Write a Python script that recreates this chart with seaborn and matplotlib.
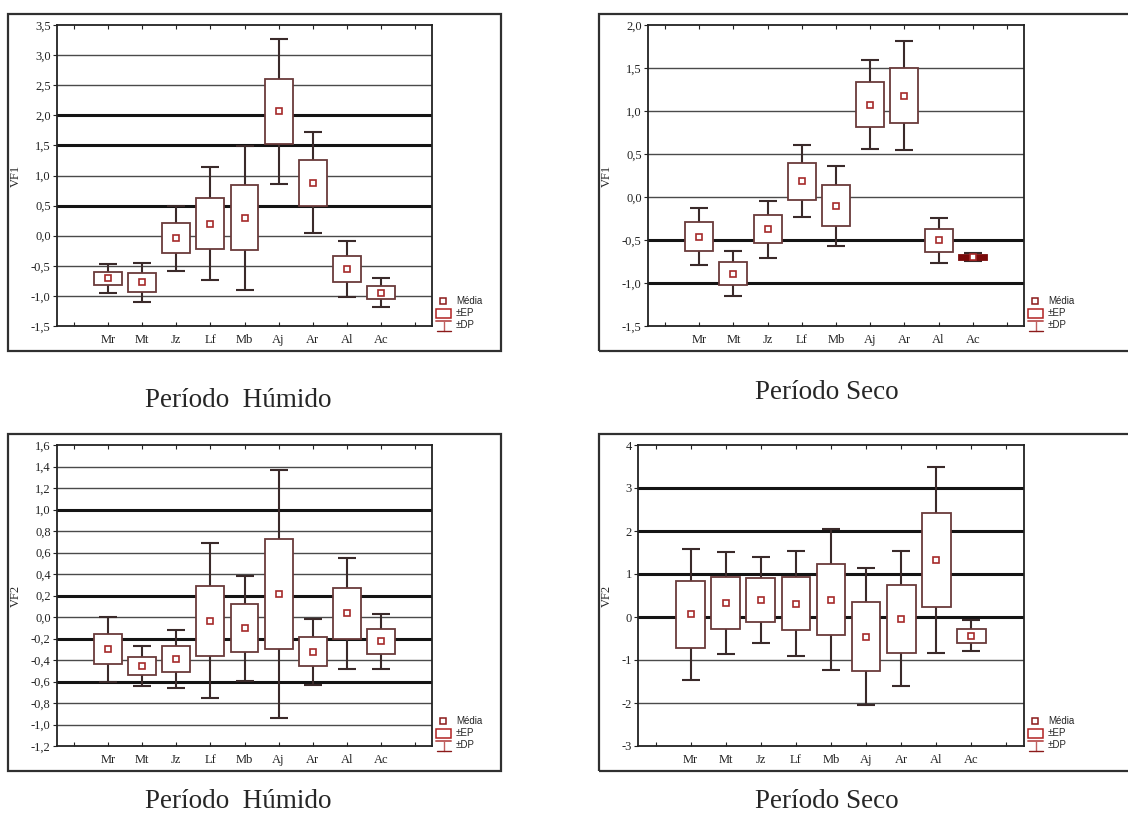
import matplotlib
matplotlib.use("Agg")
import matplotlib.pyplot as plt
from matplotlib.patches import Rectangle
from matplotlib.lines import Line2D
import pandas as pd
import seaborn as sns

# ---------------------------------------------------------------- data
especies = ["Mr", "Mt", "Jz", "Lf", "Mb", "Aj", "Ar", "Al", "Ac"]

# VF1 - wet period (mean, standard error, standard deviation)
vf1_humido_media = [-0.71, -0.775, -0.045, 0.20, 0.30, 2.065, 0.88, -0.555, -0.945]
vf1_humido_ep = [0.11, 0.155, 0.25, 0.42, 0.54, 0.535, 0.38, 0.215, 0.105]
vf1_humido_dp = [0.245, 0.325, 0.545, 0.935, 1.195, 1.20, 0.84, 0.47, 0.24]

# VF1 - dry period
vf1_seco_media = [-0.46, -0.89, -0.375, 0.185, -0.10, 1.075, 1.18, -0.505, -0.70]
vf1_seco_ep = [0.17, 0.13, 0.165, 0.215, 0.24, 0.265, 0.32, 0.135, 0.03]
vf1_seco_dp = [0.33, 0.265, 0.33, 0.42, 0.465, 0.52, 0.63, 0.26, 0.045]

# VF2 - wet period
vf2_humido_media = [-0.30, -0.455, -0.39, -0.035, -0.105, 0.215, -0.325, 0.035, -0.225]
vf2_humido_ep = [0.14, 0.085, 0.12, 0.325, 0.225, 0.515, 0.135, 0.235, 0.115]
vf2_humido_dp = [0.30, 0.185, 0.27, 0.72, 0.49, 1.15, 0.31, 0.515, 0.255]

# VF2 - dry period
vf2_seco_media = [0.06, 0.325, 0.39, 0.31, 0.40, -0.455, -0.04, 1.32, -0.44]
vf2_seco_ep = [0.77, 0.605, 0.51, 0.62, 0.83, 0.805, 0.79, 1.09, 0.17]
vf2_seco_dp = [1.525, 1.185, 1.00, 1.215, 1.64, 1.585, 1.565, 2.165, 0.36]

titulo_humido = "Período  Húmido"
titulo_seco = "Período Seco"

# ---------------------------------------------------------------- style
sns.set_style("white")
plt.rcParams["font.family"] = ["Liberation Serif", "DejaVu Serif"]

W, H = 1128, 827
fig = plt.figure(figsize=(W / 100, H / 100), dpi=100)


def fx(x):
    return x / W


def fy(y):
    return 1 - y / H


BOX_EDGE = "#6a3a3a"
BOX_SOLID = "#7a0a0a"
WHISKER = "#3a2a2a"
MEAN_EDGE = "#a52a2a"
LEG_RED = "#b22222"

paineis = [
    dict(media=vf1_humido_media, ep=vf1_humido_ep, dp=vf1_humido_dp, label="VF1",
         rect=(57, 25, 432, 326), frame=(8, 14, 501, 351),
         ylim=(-1.5, 3.5), step=0.5, dec=1, heavy=[2.0, 1.5, 0.5], lblx=22,
         title=titulo_humido, tpos=(145, 407)),
    dict(media=vf1_seco_media, ep=vf1_seco_ep, dp=vf1_seco_dp, label="VF1",
         rect=(648, 25, 1024, 326), frame=(599, 14, 1140, 351),
         ylim=(-1.5, 2.0), step=0.5, dec=1, heavy=[-0.5, -1.0], lblx=613,
         title=titulo_seco, tpos=(755, 399)),
    dict(media=vf2_humido_media, ep=vf2_humido_ep, dp=vf2_humido_dp, label="VF2",
         rect=(57, 445, 432, 746), frame=(8, 434, 501, 771),
         ylim=(-1.2, 1.6), step=0.2, dec=1, heavy=[1.0, 0.2, -0.2, -0.6], lblx=22,
         title=titulo_humido, tpos=(145, 808)),
    dict(media=vf2_seco_media, ep=vf2_seco_ep, dp=vf2_seco_dp, label="VF2",
         rect=(638, 445, 1024, 746), frame=(599, 434, 1140, 771),
         ylim=(-3, 4), step=1.0, dec=0, heavy=[3, 2, 1, 0], lblx=613,
         title=titulo_seco, tpos=(755, 808)),
]


def legenda(R, B):
    """Statistica-style key drawn right of the plot area (pixel coords)."""
    fig.add_artist(Line2D([fx(R + 11)], [fy(B - 25)], marker="s", ms=4.5,
                          mfc="white", mec="#8b1a1a", mew=1.1,
                          transform=fig.transFigure))
    fig.add_artist(Rectangle((fx(R + 4), fy(B - 8)), fx(15), 9 / H,
                             transform=fig.transFigure, facecolor="white",
                             edgecolor=LEG_RED, lw=1.1))
    fig.add_artist(Line2D([fx(R + 4), fx(R + 19)], [fy(B - 5), fy(B - 5)],
                          color="#c06060", lw=1.4, transform=fig.transFigure))
    fig.add_artist(Line2D([fx(R + 11.5), fx(R + 11.5)], [fy(B - 5), fy(B + 5)],
                          color="#c06060", lw=1.0, transform=fig.transFigure))
    fig.add_artist(Line2D([fx(R + 5), fx(R + 19)], [fy(B + 5), fy(B + 5)],
                          color="#8b1a1a", lw=1.0, transform=fig.transFigure))
    for txt, dy in (("Média", -25), ("±EP", -13), ("±DP", -1)):
        fig.text(fx(R + 24), fy(B + dy), txt, fontsize=7, va="center",
                 ha="left", family=["Liberation Sans", "DejaVu Sans"])


for p in paineis:
    x0, y0, x1, y1 = p["rect"]
    ax = fig.add_axes([fx(x0), fy(y1), fx(x1 - x0), (y1 - y0) / H])

    df = pd.DataFrame({"especie": especies, "media": p["media"],
                       "ep": p["ep"], "dp": p["dp"]})
    pos = list(range(len(especies)))
    low = [m - e for m, e in zip(df["media"], df["ep"])]
    lo, hi = p["ylim"]

    # very short boxes collapse into a solid band of the outline colour
    faces = ["white" if 2 * e > 0.03 * (hi - lo) else BOX_SOLID for e in df["ep"]]
    edges = [BOX_EDGE if f == "white" else BOX_SOLID for f in faces]

    # +/- standard deviation whiskers
    ax.errorbar(pos, df["media"], yerr=df["dp"], fmt="none", ecolor=WHISKER,
                elinewidth=1.5, capsize=6.5, capthick=1.5, zorder=2)
    # +/- standard error boxes
    ax.bar(pos, [2 * e for e in df["ep"]], bottom=low, width=0.82,
           color=faces, edgecolor=edges, linewidth=1.3, zorder=3)
    # means
    sns.pointplot(data=df, x="especie", y="media", order=especies, ax=ax,
                  errorbar=None, linestyle="none", marker="s", color=MEAN_EDGE,
                  markersize=4.5, markerfacecolor="white",
                  markeredgecolor=MEAN_EDGE, markeredgewidth=1.2, zorder=4)

    n = int(round((hi - lo) / p["step"]))
    ticks = [round(lo + i * p["step"], 2) for i in range(n + 1)]
    for t in ticks[1:-1]:
        heavy = any(abs(t - h) < 1e-9 for h in p["heavy"])
        ax.axhline(t, color="#141414" if heavy else "#4a4a4a",
                   lw=2.2 if heavy else 1.0, zorder=1)

    ax.set_ylim(lo, hi)
    ax.set_xlim(-1.5, len(especies) + 0.5)
    ax.set_yticks(ticks)
    if p["dec"]:
        ax.set_yticklabels([f"{t:.1f}".replace(".", ",") for t in ticks])
    else:
        ax.set_yticklabels([f"{int(t)}" for t in ticks])
    ax.set_xticks(range(-1, len(especies) + 1))
    ax.set_xticklabels([""] + especies + [""])
    ax.set_xlabel("")
    ax.set_ylabel(p["label"], fontsize=9)
    ax.yaxis.set_label_coords((p["lblx"] - x0) / (x1 - x0), 0.5)

    ax.tick_params(axis="x", direction="in", top=True, bottom=True,
                   length=3, width=0.8, pad=6, labelsize=9, colors="#222")
    ax.tick_params(axis="y", direction="out", left=True, length=3, width=0.8,
                   pad=1.5, labelsize=9, colors="#222")
    for s in ax.spines.values():
        s.set_visible(True)
        s.set_color("#222")
        s.set_linewidth(1.3)

    # outer frame around each panel
    fx0, fy0, fx1, fy1 = p["frame"]
    fig.add_artist(Rectangle((fx(fx0), fy(fy1)), fx(fx1 - fx0), (fy1 - fy0) / H,
                             transform=fig.transFigure, fill=False,
                             edgecolor="#303030", lw=1.6))

    legenda(x1, y1)

    tx, ty = p["tpos"]
    fig.text(fx(tx), fy(ty), p["title"], fontsize=19.5, ha="left",
             va="baseline")

fig.savefig("out.png", dpi=100, facecolor="white")
